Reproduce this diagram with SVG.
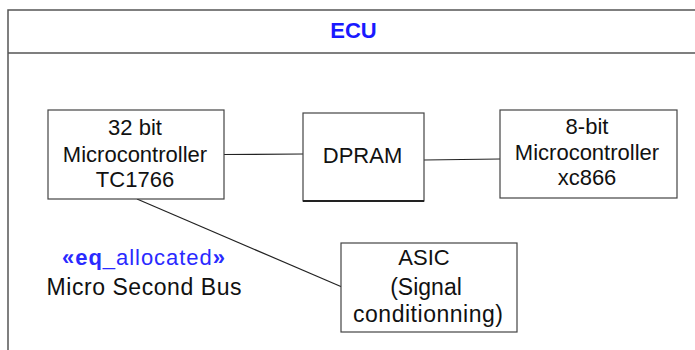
<svg xmlns="http://www.w3.org/2000/svg" width="695" height="350" viewBox="0 0 695 350">
<style>
.frame{fill:none;stroke:#555;stroke-width:1.5}
.box{fill:#fff;stroke:#444;stroke-width:1.2}
.t{font-family:"Liberation Sans",Arial,sans-serif;font-size:22px;fill:#111;text-anchor:middle}
.w{font-size:23px}
.ttl{font-family:"Liberation Sans",Arial,sans-serif;font-size:22px;font-weight:bold;fill:#1a1aff;text-anchor:middle}
.conn{stroke:#222;stroke-width:1.2;fill:none}
.st{fill:#2a2aff}
</style>
<rect width="695" height="350" fill="#fff"/>
<g id="ecu-frame">
<path class="frame" d="M8,352 V10 H700 M8,53 H700"/>
<text class="ttl" x="353.5" y="38">ECU</text>
</g>
<g id="connectors">
<line class="conn" x1="224" y1="154.5" x2="303" y2="154"/>
<line class="conn" x1="424" y1="160" x2="500" y2="159"/>
<line class="conn" x1="137" y1="199" x2="342" y2="287"/>
</g>
<g id="mc32">
<rect class="box" x="48" y="110" width="176" height="89"/>
<text class="t" x="135" y="135">32 bit</text>
<text class="t" x="135" y="161.5">Microcontroller</text>
<text class="t" x="135" y="187">TC1766</text>
</g>
<g id="dpram">
<rect class="box" x="303" y="113" width="121" height="88"/>
<line x1="303" y1="201" x2="424" y2="201" stroke="#222" stroke-width="2"/>
<text class="t" x="362.5" y="163">DPRAM</text>
</g>
<g id="mc8">
<rect class="box" x="500" y="110" width="177" height="88"/>
<text class="t" x="587" y="134">8-bit</text>
<text class="t" x="587" y="160">Microcontroller</text>
<text class="t" x="587" y="185">xc866</text>
</g>
<g id="asic">
<rect class="box" x="341" y="243" width="176" height="89"/>
<text class="t" x="424" y="265">ASIC</text>
<text class="t w" x="426" y="295">(Signal</text>
<text class="t w" x="428" y="322" textLength="150" lengthAdjust="spacing">conditionning)</text>
</g>
<g id="bus-label">
<text class="t" x="143.5" y="265" textLength="163" lengthAdjust="spacing"><tspan class="st" font-weight="bold">«eq</tspan><tspan class="st">_allocated</tspan><tspan class="st" font-weight="bold">»</tspan></text>
<text class="t w" x="144" y="295" textLength="195" lengthAdjust="spacing">Micro Second Bus</text>
</g>
</svg>
